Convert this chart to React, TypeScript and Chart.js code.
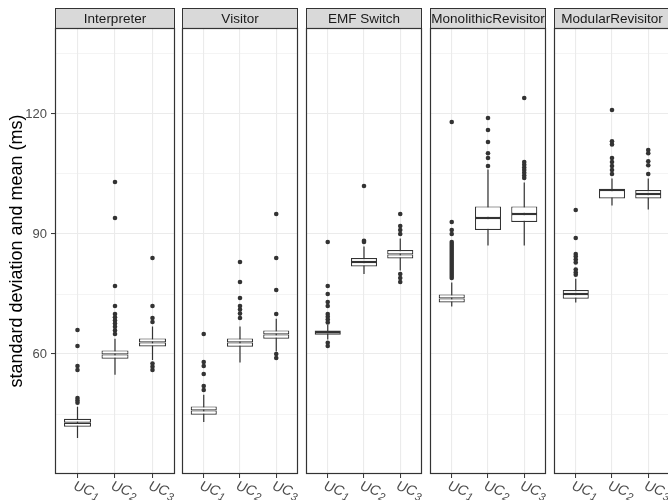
import React, { useEffect, useRef } from 'react';
import { Chart, registerables } from 'chart.js';

Chart.register(...registerables);

// ---------- data ----------
const panels = ['Interpreter', 'Visitor', 'EMF Switch', 'MonolithicRevisitor', 'ModularRevisitor'];
const categories = ['UC1', 'UC2', 'UC3'];
const yTitle = 'standard deviation and mean (ms)';
const yGridValues = [45, 60, 75, 90, 105, 120, 135];
const yTickLabels = [60, 90, 120];
const yMin = 30;
const yMax = 141.5;

// per panel: [UC1, UC2, UC3]
const whiskerLow = [
  [39.0, 54.8, 58.5],
  [43.0, 57.9, 60.6],
  [63.6, 80.0, 80.9],
  [71.9, 87.1, 87.1],
  [72.9, 97.1, 96.1],
];
const q1 = [
  [41.8, 58.8, 61.9],
  [44.8, 61.8, 63.8],
  [64.8, 81.9, 83.9],
  [72.9, 91.0, 93.0],
  [73.8, 98.9, 98.9],
];
const median = [
  [42.8, 59.9, 62.9],
  [45.9, 62.9, 64.9],
  [65.5, 83.0, 84.9],
  [73.9, 94.0, 95.0],
  [75.0, 101.0, 100.0],
];
const q3 = [
  [43.8, 60.9, 63.9],
  [46.9, 63.9, 65.9],
  [65.9, 84.0, 86.0],
  [74.9, 96.9, 96.9],
  [76.0, 101.3, 101.0],
];
const whiskerHigh = [
  [46.8, 63.8, 66.9],
  [49.8, 66.9, 68.8],
  [67.3, 86.9, 88.9],
  [77.9, 106.1, 102.9],
  [78.8, 103.9, 103.9],
];
const outliers = [
  [[66, 62, 57, 56, 49, 48.4, 47.8], [103, 94, 77, 72, 70, 69.2, 68.4, 67.6, 66.8, 65.9, 65], [84, 72, 69, 68, 57.6, 56.8, 56]],
  [[65, 58, 57, 55, 52, 51], [83, 78, 74, 72, 71.1, 70.1, 69], [95, 84, 76, 70, 60, 59]],
  [[88, 77, 75, 73, 72, 70, 69.3, 68.6, 67.9, 62.8, 62], [102, 88.3, 88], [95, 92, 91, 90, 80, 79, 78]],
  [[118, 93, 91, 90, 88, 87.5, 87, 86.5, 86, 85.5, 85, 84.5, 84, 83.5, 83, 82.5, 82, 81.5, 81, 80.5, 80, 79.5, 79], [119, 116, 113, 110.2, 109, 107], [124, 108, 107.3, 106.6, 106, 105.3, 104.6, 104]],
  [[96, 89, 85, 84.4, 83.6, 82.9, 81.1, 80.4, 79.8], [121, 113.2, 112.4, 109, 108, 107, 106, 105], [111, 110.2, 108.2, 107.2, 105]],
];

// ---------- layout ----------
const FONT = "'Liberation Sans', Arial, Helvetica, sans-serif";
const panelLeft = [55, 178, 302, 426, 550];
const panelWidth = 120;
const yAxisWidth = 55;
const extraRight = 24;
const plotTop = 28;
const stripTop = 8;
const xAxisHeight = 26;
const H = 500;

const DARK = '#333333';
const GRID = '#ebebeb';

const stripPlugin = {
  id: 'strip',
  afterDraw(chart: any, _args: any, opts: any) {
    const { ctx, chartArea: a } = chart;
    ctx.save();
    const w = a.right - a.left;
    ctx.fillStyle = '#d9d9d9';
    ctx.fillRect(a.left, stripTop, w, a.top - stripTop);
    ctx.strokeStyle = DARK;
    ctx.lineWidth = 1;
    ctx.strokeRect(a.left + 0.5, stripTop + 0.5, w - 1, a.top - stripTop);
    ctx.fillStyle = '#1a1a1a';
    ctx.font = `13.5px ${FONT}`;
    ctx.textAlign = 'center';
    ctx.textBaseline = 'middle';
    ctx.fillText(opts.label, (a.left + a.right) / 2, (stripTop + a.top) / 2 + 1);
    // panel frame
    ctx.lineWidth = 1.2;
    ctx.strokeRect(a.left + 0.5, a.top + 0.5, w - 1, a.bottom - a.top - 1);
    ctx.restore();
  },
};

const xLabelPlugin = {
  id: 'xLabels',
  afterDraw(chart: any) {
    const { ctx } = chart;
    const x = chart.scales.x;
    ctx.save();
    ctx.fillStyle = '#4d4d4d';
    categories.forEach((cat, i) => {
      const px = x.getPixelForValue(i + 1);
      const m = cat.match(/^(\D+)(\d*)$/);
      const base = m ? m[1] : cat;
      const sub = m ? m[2] : '';
      ctx.save();
      ctx.translate(px - 1, x.top + 5);
      ctx.rotate((20 * Math.PI) / 180);
      ctx.textAlign = 'left';
      ctx.textBaseline = 'alphabetic';
      ctx.font = `italic 14px ${FONT}`;
      ctx.fillText(base, 0, 11);
      const w = ctx.measureText(base).width;
      ctx.font = `italic 11px ${FONT}`;
      ctx.fillText(sub, w + 0.5, 14);
      ctx.restore();
    });
    ctx.restore();
  },
};

function buildConfig(p: number): any {
  const first = p === 0;
  const boxData: any[] = [];
  const whiskerData: any[] = [];
  const outlierData: any[] = [];
  categories.forEach((_, i) => {
    const xv = i + 1;
    boxData.push({ x: xv, y: [q1[p][i], median[p][i]] });
    boxData.push({ x: xv, y: [median[p][i], q3[p][i]] });
    whiskerData.push({ x: xv, y: whiskerLow[p][i] });
    whiskerData.push({ x: xv, y: whiskerHigh[p][i] });
    whiskerData.push({ x: xv, y: null });
    outliers[p][i].forEach((v) => outlierData.push({ x: xv, y: v }));
  });

  return {
    type: 'scatter',
    data: {
      datasets: [
        {
          type: 'bar',
          data: boxData,
          backgroundColor: '#ffffff',
          borderColor: DARK,
          borderWidth: 1.2,
          borderSkipped: false,
          barPercentage: 0.72,
          categoryPercentage: 1,
          order: 0,
        },
        {
          type: 'scatter',
          data: outlierData,
          pointRadius: 2.3,
          pointBackgroundColor: DARK,
          pointBorderWidth: 0,
          order: 1,
        },
        {
          type: 'line',
          data: whiskerData,
          borderColor: DARK,
          borderWidth: 1.2,
          pointRadius: 0,
          spanGaps: false,
          tension: 0,
          order: 2,
        },
      ],
    },
    options: {
      responsive: false,
      animation: false,
      events: [],
      layout: { padding: { left: 0, right: extraRight, top: plotTop, bottom: 0 } },
      plugins: {
        legend: { display: false },
        tooltip: { enabled: false },
        title: { display: false },
        strip: { label: panels[p] },
      },
      scales: {
        x: {
          type: 'linear',
          min: 0.4,
          max: 3.6,
          offset: false,
          afterBuildTicks: (s: any) => {
            s.ticks = categories.map((_, i) => ({ value: i + 1 }));
          },
          afterFit: (s: any) => {
            s.height = xAxisHeight;
          },
          ticks: { display: false },
          border: { display: false },
          grid: {
            offset: false,
            color: GRID,
            lineWidth: 1.1,
            drawTicks: true,
            tickLength: 4,
            tickColor: DARK,
            tickWidth: 1,
          },
        },
        y: {
          type: 'linear',
          min: yMin,
          max: yMax,
          beginAtZero: false,
          stacked: false,
          afterBuildTicks: (s: any) => {
            s.ticks = yGridValues.map((v) => ({ value: v }));
          },
          afterFit: (s: any) => {
            s.width = first ? yAxisWidth : 0;
          },
          border: { display: false },
          title: {
            display: first,
            text: yTitle,
            color: '#000000',
            font: { family: FONT, size: 18 },
            padding: { top: 6, bottom: 0 },
          },
          ticks: {
            display: first,
            color: '#4d4d4d',
            font: { family: FONT, size: 13 },
            padding: 4,
            callback: (v: any) => (yTickLabels.includes(Number(v)) ? String(v) : ''),
          },
          grid: {
            color: GRID,
            lineWidth: (c: any) => (c.tick && yTickLabels.includes(c.tick.value) ? 1.1 : 0.55),
            drawTicks: first,
            tickLength: 4,
            tickWidth: 1,
            tickColor: (c: any) => (c.tick && yTickLabels.includes(c.tick.value) ? DARK : 'rgba(0,0,0,0)'),
          },
        },
      },
    },
    plugins: [stripPlugin, xLabelPlugin],
  };
}

function Panel({ index }: { index: number }) {
  const ref = useRef<HTMLCanvasElement>(null);
  const first = index === 0;
  const left = first ? 0 : panelLeft[index];
  const width = (first ? panelLeft[0] : 0) + panelWidth + extraRight;
  useEffect(() => {
    if (!ref.current) return;
    const chart = new Chart(ref.current, buildConfig(index));
    return () => chart.destroy();
  }, [index]);
  return (
    <canvas
      ref={ref}
      width={width}
      height={H}
      style={{ position: 'absolute', left, top: 0, width, height: H }}
    />
  );
}

export default function App() {
  Chart.defaults.font.family = FONT;
  return (
    <div
      style={{
        position: 'absolute',
        left: 0,
        top: 0,
        width: 668,
        height: 500,
        overflow: 'hidden',
        background: '#ffffff',
      }}
    >
      {panels.map((_, i) => (
        <Panel key={i} index={i} />
      ))}
    </div>
  );
}
